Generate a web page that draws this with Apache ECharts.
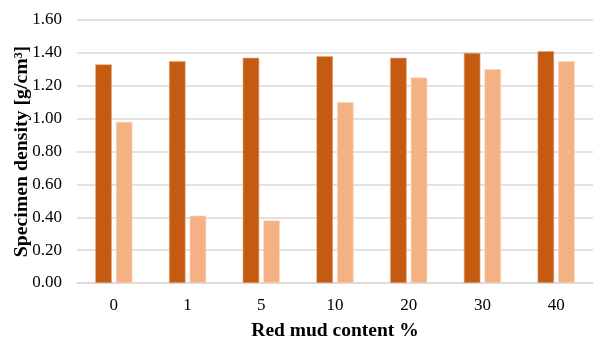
<!DOCTYPE html>
<html><head><meta charset="utf-8">
<script src="https://cdn.jsdelivr.net/npm/echarts@6/dist/echarts.min.js"></script>
<style>html,body{margin:0;padding:0;background:#fff}#c{width:593px;height:337px}</style>
</head><body><div id="c"></div>
<script>
const categories = ['0','1','5','10','20','30','40'];
const seriesA = [1.33,1.35,1.37,1.38,1.37,1.40,1.41];
const seriesB = [0.98,0.41,0.38,1.10,1.25,1.30,1.35];
const yTicks = {min:0, max:1.6, interval:0.2};
const chart = echarts.init(document.getElementById('c'));
const font = 'Liberation Serif';
chart.setOption({
  animation:false,
  grid:{left:77, right:0, top:20, bottom:54, containLabel:false, outerBoundsMode:'none'},
  xAxis:{type:'category', data:categories,
    name:'Red mud content %', nameLocation:'middle', nameGap:38, nameMoveOverlap:false,
    nameTextStyle:{fontFamily:font, fontSize:19.5, fontWeight:'bold', color:'#000'},
    axisLine:{lineStyle:{color:'#d9d9d9', width:1.5}}, axisTick:{show:false},
    axisLabel:{fontFamily:font, fontSize:17, color:'#000', margin:14}},
  yAxis:{type:'value', min:yTicks.min, max:yTicks.max, interval:yTicks.interval,
    name:'Specimen density [g/cm³]', nameLocation:'middle', nameGap:45, nameMoveOverlap:false,
    nameTextStyle:{fontFamily:font, fontSize:19.8, fontWeight:'bold', color:'#000'},
    axisLine:{show:false}, axisTick:{show:false},
    splitLine:{lineStyle:{color:'#d9d9d9', width:1.5}},
    axisLabel:{fontFamily:font, fontSize:17, color:'#000', margin:15, formatter:v=>v.toFixed(2)}},
  series:[
    {type:'bar', data:seriesA, barWidth:16.5, barGap:'25%',
     itemStyle:{color:'#C55A11', borderColor:'#e3a77f', borderWidth:0.6}},
    {type:'bar', data:seriesB, barWidth:16.5,
     itemStyle:{color:'#F4B183', borderColor:'#fad7c0', borderWidth:0.6}}
  ]
});
</script></body></html>
